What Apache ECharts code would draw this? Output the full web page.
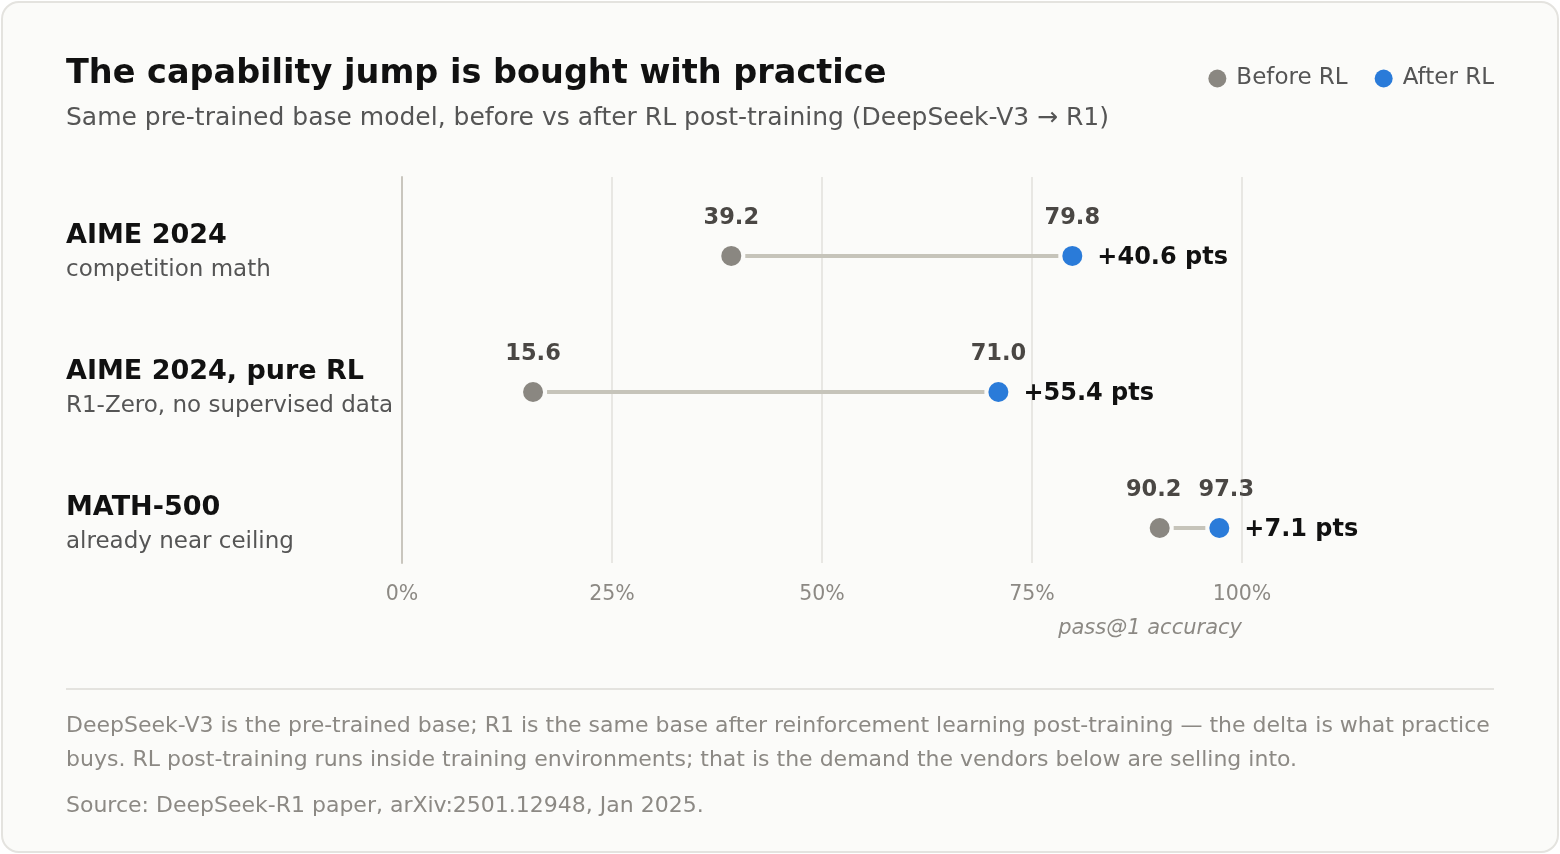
<!DOCTYPE html>
<html lang="en">
<head>
<meta charset="utf-8">
<title>The capability jump is bought with practice</title>
<script src="https://cdn.jsdelivr.net/npm/echarts@6/dist/echarts.min.js"></script>
<style>
  html, body { margin: 0; padding: 0; background: #ffffff; }
  #card {
    position: absolute; left: 1px; top: 1px; width: 1554px; height: 848px;
    border: 2px solid #e4e3df; border-radius: 18px; background: #fbfbf9; overflow: hidden;
  }
  #chart { position: absolute; left: -3px; top: -3px; width: 1560px; height: 854px; }
  .note {
    position: absolute; left: 63px; width: 1460px;
    font-family: "DejaVu Sans", sans-serif; font-size: 22px; color: #8c8984; line-height: 34px;
  }
  #rule { position: absolute; left: 63px; top: 685px; width: 1428px; height: 2px; background: #e4e3df; }
</style>
</head>
<body>
<div id="card">
  <div id="chart"></div>
  <div id="rule"></div>
  <div class="note" style="top:705px;">DeepSeek-V3 is the pre-trained base; R1 is the same base after reinforcement learning post-training — the delta is what practice<br>buys. RL post-training runs inside training environments; that is the demand the vendors below are selling into.</div>
  <div class="note" style="top:785px;">Source: DeepSeek-R1 paper, arXiv:2501.12948, Jan 2025.</div>
</div>

<script>
    // benchmarks, top to bottom
    var benchmarks = ['AIME 2024', 'AIME 2024, pure RL', 'MATH-500'];
    var benchmarkNotes = ['competition math', 'R1-Zero, no supervised data', 'already near ceiling'];

    // pass@1 accuracy, %
    var beforeRL = [39.2, 15.6, 90.2];
    var afterRL = [79.8, 71.0, 97.3];

    var xTicks = [0, 25, 50, 75, 100];

    var GRAY = '#8a8781';
    var BLUE = '#2a7bd9';
    var FONT = '"DejaVu Sans", sans-serif';

    var beforeData = [];
    var afterData = [];
    var pairData = [];
    for (var i = 0; i < benchmarks.length; i++) {
        // nudge the value labels apart when the two dots sit close together
        var close = afterRL[i] - beforeRL[i] < 10;
        beforeData.push({ value: [beforeRL[i], i], label: { offset: [close ? -6 : 0, 0] } });
        afterData.push({ value: [afterRL[i], i], label: { offset: [close ? 7 : 0, 0] } });
        pairData.push([beforeRL[i], afterRL[i], i]);
    }

    var myChart = echarts.init(document.getElementById('chart'));

    option = {
        animation: false,
        textStyle: { fontFamily: FONT },
        title: [
            {
                text: 'The capability jump is bought with practice',
                left: 66, top: 53, padding: 0,
                textStyle: { fontFamily: FONT, fontSize: 33.5, fontWeight: 'bold', color: '#111111', lineHeight: 42 }
            },
            {
                text: 'Same pre-trained base model, before vs after RL post-training (DeepSeek-V3 \u2192 R1)',
                left: 66, top: 102, padding: 0,
                textStyle: { fontFamily: FONT, fontSize: 25, fontWeight: 'normal', color: '#555555', lineHeight: 32 }
            }
        ],
        legend: {
            data: ['Before RL', 'After RL'],
            right: 61, top: 62,
            icon: 'circle',
            itemWidth: 18, itemHeight: 18,
            itemGap: 27,
            textStyle: { fontFamily: FONT, fontSize: 23, color: '#555555', padding: [0, 0, 0, 5] }
        },
        grid: { left: 402, right: 318, top: 177, bottom: 291 },
        xAxis: {
            type: 'value',
            min: 0, max: 100, interval: 25,
            axisLine: { show: false },
            axisTick: { show: false },
            splitLine: { show: true, lineStyle: { color: '#e2e0db', width: 1.5 } },
            axisLabel: {
                margin: 21,
                customValues: xTicks,
                fontFamily: FONT, fontSize: 20.5, color: '#8c8984',
                formatter: function (v) { return v + '%'; }
            }
        },
        yAxis: {
            type: 'value',
            inverse: true,
            min: -0.58, max: 2.257,
            axisLine: { show: true, onZero: false, lineStyle: { color: '#c9c6be', width: 2 } },
            axisTick: { show: false },
            splitLine: { show: false },
            axisLabel: {
                customValues: [0, 1, 2],
                align: 'left',
                margin: 336,
                padding: [0, 0, 6, 0],
                formatter: function (v) {
                    return '{n|' + benchmarks[v] + '}\n{s|' + benchmarkNotes[v] + '}';
                },
                rich: {
                    n: { fontFamily: FONT, fontSize: 27, fontWeight: 'bold', color: '#111111', lineHeight: 34 },
                    s: { fontFamily: FONT, fontSize: 23, color: '#555555', lineHeight: 34 }
                }
            }
        },
        graphic: [
            {
                type: 'text', right: 318, top: 618,
                style: {
                    text: 'pass@1 accuracy',
                    font: 'italic 21px "DejaVu Sans", sans-serif',
                    fill: '#8c8984'
                }
            }
        ],
        series: [
            {
                name: 'pair',
                type: 'custom',
                silent: true,
                z: 1,
                data: pairData,
                renderItem: function (params, api) {
                    var a = api.coord([api.value(0), api.value(2)]);
                    var b = api.coord([api.value(1), api.value(2)]);
                    var delta = (api.value(1) - api.value(0)).toFixed(1);
                    return {
                        type: 'group',
                        children: [
                            {
                                type: 'line',
                                shape: { x1: a[0] + 14, y1: a[1], x2: b[0] - 14, y2: b[1] },
                                style: { stroke: '#c6c4ba', lineWidth: 4 }
                            },
                            {
                                type: 'text',
                                x: b[0] + 25, y: b[1] + 1.5,
                                style: {
                                    text: '+' + delta + ' pts',
                                    font: 'bold 24px "DejaVu Sans", sans-serif',
                                    fill: '#111111',
                                    verticalAlign: 'middle',
                                    align: 'left'
                                }
                            }
                        ]
                    };
                }
            },
            {
                name: 'Before RL',
                type: 'scatter',
                z: 3,
                symbolSize: 20,
                itemStyle: { color: GRAY, opacity: 1 },
                data: beforeData,
                label: {
                    show: true, position: 'top', distance: 16,
                    fontFamily: FONT, fontSize: 22.5, fontWeight: 'bold', color: '#4a4744',
                    formatter: function (p) { return p.value[0].toFixed(1); }
                }
            },
            {
                name: 'After RL',
                type: 'scatter',
                z: 3,
                symbolSize: 20,
                itemStyle: { color: BLUE, opacity: 1 },
                data: afterData,
                label: {
                    show: true, position: 'top', distance: 16,
                    fontFamily: FONT, fontSize: 22.5, fontWeight: 'bold', color: '#4a4744',
                    formatter: function (p) { return p.value[0].toFixed(1); }
                }
            }
        ]
    };

    myChart.setOption(option);
</script>
</body>
</html>
